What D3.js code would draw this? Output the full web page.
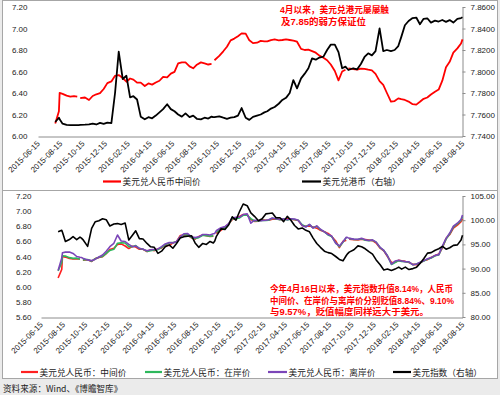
<!DOCTYPE html>
<html>
<head>
<meta charset="utf-8">
<script src="https://cdn.jsdelivr.net/npm/d3@7"></script>
<style>
body { margin: 0; background: #fff; }
.app { width: 500px; height: 395px; }
</style>
</head>
<body>
<div class="app"></div>
<script>
'use strict'

// общие даты для всех рядов
var dates = [
  "2015-08-01","2015-08-11","2015-08-13","2015-08-21","2015-09-01","2015-09-11","2015-09-21","2015-09-30","2015-10-04","2015-10-08","2015-10-21","2015-11-01","2015-11-11","2015-11-21","2015-12-01","2015-12-11","2015-12-21",
  "2016-01-01","2016-01-11","2016-01-21","2016-02-01","2016-02-11","2016-02-21","2016-03-01","2016-03-11","2016-03-21","2016-04-01","2016-04-11","2016-04-21","2016-05-01","2016-05-11","2016-05-21","2016-06-01","2016-06-11","2016-06-21","2016-07-01","2016-07-11","2016-07-21","2016-08-01","2016-08-11","2016-08-21","2016-09-01","2016-09-11","2016-09-21","2016-09-30","2016-10-04","2016-10-08","2016-10-21","2016-11-01","2016-11-11","2016-11-21","2016-12-01","2016-12-11","2016-12-21",
  "2017-01-01","2017-01-11","2017-01-21","2017-02-01","2017-02-11","2017-02-21","2017-03-01","2017-03-11","2017-03-21","2017-04-01","2017-04-11","2017-04-21","2017-05-01","2017-05-11","2017-05-21","2017-06-01","2017-06-11","2017-06-21","2017-07-01","2017-07-11","2017-07-21","2017-08-01","2017-08-11","2017-08-21","2017-09-01","2017-09-11","2017-09-21","2017-09-30","2017-10-04","2017-10-08","2017-10-21","2017-11-01","2017-11-11","2017-11-21","2017-12-01","2017-12-11","2017-12-21",
  "2018-01-01","2018-01-11","2018-01-21","2018-02-01","2018-02-11","2018-02-21","2018-03-01","2018-03-11","2018-03-21","2018-04-01","2018-04-11","2018-04-21","2018-05-01","2018-05-11","2018-05-21","2018-06-01","2018-06-11","2018-06-21","2018-07-01","2018-07-11","2018-07-21","2018-08-01","2018-08-11","2018-08-15"
];

// 美元兑人民币中间价
var usdCnyMid = [
  6.116,6.230,6.401,6.392,6.375,6.366,6.371,6.366,null,6.352,6.358,6.335,6.372,6.388,6.398,6.437,6.492,
  6.508,6.560,6.567,6.539,6.505,6.535,6.525,6.496,6.496,6.465,6.489,6.478,6.498,6.514,6.550,6.545,6.580,6.597,6.676,6.685,6.685,6.648,6.630,6.663,6.685,6.675,6.665,6.670,null,6.705,6.745,6.788,6.830,6.890,6.906,6.928,6.955,
  6.952,6.890,6.864,6.868,6.885,6.880,6.880,6.892,6.898,6.889,6.893,6.899,6.893,6.887,6.877,6.810,6.800,6.803,6.790,6.775,6.748,6.728,6.705,6.665,6.605,6.518,6.600,6.616,null,6.629,6.622,6.618,6.627,6.625,6.617,6.610,6.578,
  6.510,6.475,6.400,6.320,6.325,6.350,6.342,6.335,6.320,6.296,6.292,6.318,6.346,6.358,6.386,6.412,6.432,6.515,6.640,6.690,6.775,6.815,6.860,6.899
];

// 美元兑港币（右轴）
var usdHkd = [
  7.7530,7.7570,7.7555,7.7515,7.7504,7.7502,7.7502,7.7502,7.7502,7.7503,7.7505,7.7508,7.7515,7.7507,7.7522,7.7513,7.7525,
  7.7520,7.7800,7.8184,7.7930,7.7960,7.7760,7.7770,7.7740,7.7580,7.7555,7.7575,7.7565,7.7590,7.7620,7.7650,7.7695,7.7650,7.7630,7.7600,7.7580,7.7610,7.7575,7.7590,7.7560,7.7555,7.7570,7.7562,7.7580,7.7575,7.7575,7.7582,7.7570,7.7560,7.7570,7.7575,7.7590,7.7660,
  7.7570,7.7550,7.7578,7.7590,7.7600,7.7620,7.7630,7.7655,7.7670,7.7700,7.7735,7.7755,7.7800,7.7920,7.7843,7.7936,7.7980,7.8030,7.8122,7.8110,7.8130,7.8138,7.8200,7.8250,7.8250,7.8180,7.8030,7.8045,7.8030,7.8014,7.8030,7.8020,7.8070,7.8135,7.8169,7.8150,7.8190,
  7.8402,7.8190,7.8200,7.8190,7.8200,7.8237,7.8320,7.8430,7.8470,7.8497,7.8502,7.8440,7.8490,7.8495,7.8455,7.8473,7.8465,7.8479,7.8462,7.8478,7.8455,7.8490,7.8497,7.8504
];

// 美元兑人民币：在岸价
var usdCnyOnshore = [
  6.210,6.320,6.410,6.405,6.385,6.375,6.378,6.365,null,6.355,6.360,6.338,6.370,6.390,6.400,6.440,6.480,
  6.495,6.575,6.580,6.578,6.530,6.530,6.545,6.505,6.498,6.468,6.475,6.485,6.490,6.520,6.555,6.580,6.585,6.590,6.660,6.690,6.685,6.650,6.640,6.650,6.680,6.675,6.670,6.673,null,6.720,6.765,6.780,6.825,6.900,6.900,6.910,6.945,
  6.945,6.900,6.870,6.870,6.880,6.875,6.880,6.905,6.895,6.885,6.898,6.882,6.895,6.890,6.880,6.820,6.795,6.820,6.780,6.800,6.755,6.725,6.685,6.665,6.580,6.530,6.590,6.650,null,6.640,6.625,6.625,6.635,6.615,6.610,6.615,6.590,
  6.515,6.480,6.410,6.295,6.320,6.345,6.335,6.330,6.325,6.290,6.300,6.320,6.340,6.365,6.380,6.410,6.420,6.530,6.630,6.700,6.790,6.830,6.880,6.930
];

// 美元兑人民币：离岸价
var usdCnyOffshore = [
  6.215,6.380,6.450,6.458,6.460,6.440,6.400,6.389,6.386,6.378,6.355,6.345,6.365,6.393,6.420,6.470,6.530,
  6.575,6.684,6.605,6.598,6.560,6.530,6.540,6.508,6.497,6.475,6.490,6.494,6.500,6.530,6.566,6.585,6.580,6.598,6.660,6.700,6.705,6.660,6.650,6.660,6.690,6.690,6.685,6.700,6.705,6.740,6.780,6.795,6.835,6.910,6.920,6.920,6.955,
  6.965,6.840,6.880,6.875,6.875,6.880,6.885,6.910,6.900,6.890,6.900,6.885,6.900,6.895,6.880,6.810,6.790,6.825,6.775,6.805,6.760,6.725,6.690,6.670,6.575,6.540,6.595,6.655,6.650,6.640,6.630,6.628,6.640,6.620,6.612,6.620,6.590,
  6.520,6.480,6.410,6.300,6.340,6.350,6.340,6.332,6.330,6.290,6.300,6.325,6.345,6.370,6.385,6.415,6.425,6.540,6.640,6.710,6.800,6.840,6.890,6.950
];

// 美元指数（右轴）
var dollarIndex = [
  97.6,97.9,97.5,95.6,96.0,96.6,96.0,96.5,96.3,96.0,94.6,98.3,99.7,99.9,100.3,100.1,98.8,
  99.2,99.3,99.1,99.4,95.9,96.9,97.8,96.2,96.1,95.2,94.5,94.4,93.15,93.6,94.5,94.9,94.2,95.2,96.3,96.6,96.7,96.8,95.3,94.4,95.2,95.0,95.6,95.3,95.7,96.6,98.2,98.1,99.0,100.7,100.0,101.8,103.35,
  103.0,101.5,100.8,99.9,100.3,101.3,101.4,101.5,100.5,100.5,99.7,100.8,100.0,98.9,98.2,98.4,97.9,97.6,96.3,95.2,94.4,93.6,93.3,93.1,92.5,91.9,91.6,92.7,93.1,93.4,93.9,94.7,94.5,94.1,93.5,93.0,91.8,
  90.8,89.7,89.9,89.6,89.9,90.3,89.9,90.3,89.8,90.0,90.3,91.1,92.1,93.2,93.3,93.8,94.1,94.6,94.0,94.3,94.8,94.9,95.9,96.9
];

// подписи осей
var topCnyTicks = [6.0, 6.2, 6.4, 6.6, 6.8, 7.0, 7.2];
var topHkdTicks = [7.74, 7.76, 7.78, 7.80, 7.82, 7.84, 7.86];
var bottomCnyTicks = [5.6, 5.8, 6.0, 6.2, 6.4, 6.6, 6.8, 7.0, 7.2];
var bottomIndexTicks = [80, 85, 90, 95, 100, 105];
var xTickLabels = [
  "2015-06-15","2015-08-15","2015-10-15","2015-12-15","2016-02-15","2016-04-15","2016-06-15",
  "2016-08-15","2016-10-15","2016-12-15","2017-02-15","2017-04-15","2017-06-15","2017-08-15",
  "2017-10-15","2017-12-15","2018-02-15","2018-04-15","2018-06-15","2018-08-15"
];

var numFont = "'Liberation Sans', Arial, sans-serif";
var cnFont = "'Noto Sans CJK SC', sans-serif";
var axisColor = "#8c8c8c";

var parseDate = d3.timeParse("%Y-%m-%d");
var dateDomain = [parseDate(xTickLabels[0]), parseDate(xTickLabels[xTickLabels.length - 1])];
var xTicks = xTickLabels.map(parseDate);

function series(values) {
  return dates.map(function(d, i) { return {date: parseDate(d), v: values[i]}; });
}

var svg = d3.select(".app")
            .append("svg")
            .attr("width", 500)
            .attr("height", 395);

// фон и рамки
svg.append("rect").attr("x", 0).attr("y", 0).attr("width", 500).attr("height", 395).attr("fill", "#ebebeb");
svg.append("rect").attr("x", 2.5).attr("y", 0.5).attr("width", 495).attr("height", 190)
   .attr("fill", "#fff").attr("stroke", "#a6a6a6");
svg.append("rect").attr("x", 2.5).attr("y", 190.5).attr("width", 495).attr("height", 188)
   .attr("fill", "#fff").attr("stroke", "#a6a6a6");

// ---------- верхний график ----------
var xTop = d3.scaleTime().domain(dateDomain).range([38, 462.5]);
var yTopL = d3.scaleLinear().domain([6.0, 7.2]).range([136, 7]);
var yTopR = d3.scaleLinear().domain([7.74, 7.86]).range([136, 7]);

// ---------- нижний график ----------
var xBot = d3.scaleTime().domain(dateDomain).range([41, 462.5]);
var yBotL = d3.scaleLinear().domain([5.6, 7.2]).range([317, 196]);
var yBotR = d3.scaleLinear().domain([80, 105]).range([317, 196]);

function styleTicks(g, anchor) {
  g.selectAll("text")
   .attr("font-family", numFont)
   .attr("font-size", 8)
   .attr("fill", "#222");
  g.selectAll("line").attr("stroke", axisColor);
  g.select(".domain").attr("stroke", axisColor);
}

function drawAxes(x, yL, yR, leftTicks, rightTicks, rightFormat, leftX, labelPad) {
  var bottomY = yL.range()[0];

  var gl = svg.append("g")
              .attr("transform", "translate(" + leftX + ",0)")
              .call(d3.axisLeft(yL).tickValues(leftTicks).tickSize(0).tickPadding(labelPad).tickFormat(d3.format(".2f")));
  gl.select(".domain").remove();
  styleTicks(gl);

  var gr = svg.append("g")
              .attr("transform", "translate(462.5,0)")
              .call(d3.axisRight(yR).tickValues(rightTicks).tickSize(3).tickSizeOuter(0).tickPadding(5).tickFormat(d3.format(rightFormat)));
  styleTicks(gr);

  var gx = svg.append("g")
              .attr("transform", "translate(0," + (bottomY + 0.5) + ")")
              .call(d3.axisBottom(x).tickValues(xTicks).tickSize(0).tickSizeOuter(0).tickFormat(d3.timeFormat("%Y-%m-%d")));
  styleTicks(gx);
  gx.selectAll("text")
    .attr("text-anchor", "end")
    .attr("x", -4)
    .attr("y", 4)
    .attr("dy", "0.35em")
    .attr("transform", "rotate(-45)");
}

drawAxes(xTop, yTopL, yTopR, topCnyTicks, topHkdTicks, ".4f", 38, 10.5);
drawAxes(xBot, yBotL, yBotR, bottomCnyTicks, bottomIndexTicks, ".2f", 41, 9.5);

function drawLine(data, x, y, color, width) {
  var line = d3.line()
               .defined(function(d) { return d.v != null; })
               .x(function(d) { return x(d.date); })
               .y(function(d) { return y(d.v); });
  svg.append("path")
     .attr("d", line(data))
     .attr("fill", "none")
     .attr("stroke", color)
     .attr("stroke-width", width)
     .attr("stroke-linejoin", "round");
}

// верхние линии
drawLine(series(usdCnyMid), xTop, yTopL, "#ff0000", 1.8);
drawLine(series(usdHkd), xTop, yTopR, "#000000", 1.8);

// нижние линии
drawLine(series(usdCnyMid), xBot, yBotL, "#ff2020", 1.6);
drawLine(series(usdCnyOnshore), xBot, yBotL, "#2eb85c", 1.6);
drawLine(series(usdCnyOffshore), xBot, yBotL, "#7b45b8", 1.6);
drawLine(series(dollarIndex), xBot, yBotR, "#000000", 1.6);

// легенды
function legendItem(x1, x2, y, color, label) {
  svg.append("line")
     .attr("x1", x1).attr("x2", x2).attr("y1", y).attr("y2", y)
     .attr("stroke", color).attr("stroke-width", 2.2);
  svg.append("text")
     .attr("x", x2 + 1.5).attr("y", y)
     .attr("dominant-baseline", "central")
     .attr("font-family", cnFont)
     .attr("font-size", 8.7)
     .attr("fill", "#222")
     .text(label);
}

legendItem(103, 121, 181.5, "#ff0000", "美元兑人民币中间价");
legendItem(302, 321, 181.5, "#000000", "美元兑港币（右轴）");
legendItem(21, 38, 372, "#ff2020", "美元兑人民币：中间价");
legendItem(145, 162, 372, "#2eb85c", "美元兑人民币：在岸价");
legendItem(268, 287, 372, "#7b45b8", "美元兑人民币：离岸价");
legendItem(393, 411, 372, "#000000", "美元指数（右轴）");

// пояснения красным
function note(x, y, len, txt) {
  svg.append("text")
     .attr("x", x).attr("y", y)
     .attr("dominant-baseline", "central")
     .attr("font-family", numFont + "," + cnFont)
     .attr("font-weight", "bold")
     .attr("font-size", 8.8)
     .attr("fill", "#ff0000")
     .attr("textLength", len)
     .attr("lengthAdjust", "spacingAndGlyphs")
     .text(txt);
}

note(280, 10, 109, "4月以来，美元兑港元屡屡触");
note(281, 22, 85, "及7.85的弱方保证位");
note(270, 289, 183, "今年4月16日以来，美元指数升值8.14%，人民币");
note(270, 300.5, 184, "中间价、在岸价与离岸价分别贬值8.84%、9.10%");
note(270, 311.5, 159, "与9.57%，贬值幅度同样远大于美元。");

// источник
svg.append("text")
   .attr("x", 3).attr("y", 388)
   .attr("dominant-baseline", "central")
   .attr("font-family", cnFont)
   .attr("font-size", 8.6)
   .attr("fill", "#222")
   .text("资料来源：Wind、《博瞻智库》");
</script>
</body>
</html>
